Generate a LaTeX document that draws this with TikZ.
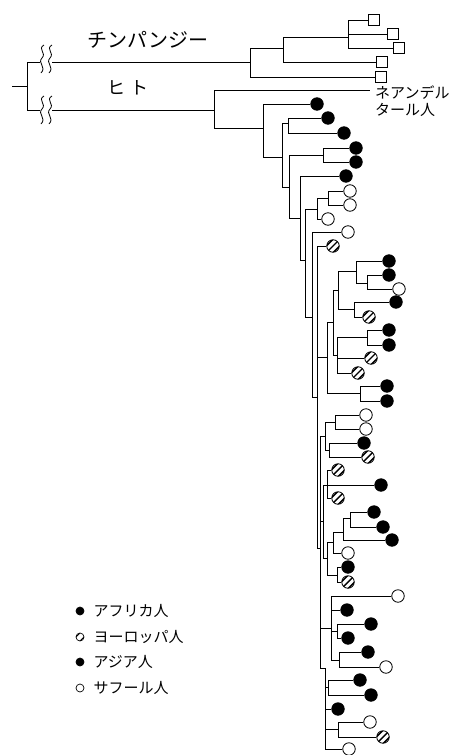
\documentclass[tikz,border=0pt]{standalone}
\usepackage{fontspec}
\newfontfamily\jp{Noto Sans CJK JP}
\begin{document}
\begin{tikzpicture}[x=1pt,y=-1pt]
\tikzset{
 br/.style={line width=1pt, line cap=square},
 lf/.style={circle, draw, line width=0.8pt, minimum size=12.5pt, inner sep=0pt},
 lb/.style={lf, fill=black},
 lw/.style={lf, fill=white},
 lh/.style={lf, fill=white, path picture={\foreach \d in {-3.3,0,3.3}{\draw[line width=1.4pt] ([shift={(-9+\d,9+\d)}]path picture bounding box.center) -- ([shift={(9+\d,-9+\d)}]path picture bounding box.center);}}},
 sq/.style={draw, rectangle, minimum size=11pt, inner sep=0pt, fill=white, line width=0.8pt},
 lg/.style={circle, draw, minimum size=8pt, inner sep=0pt, line width=0.7pt},
 lgh/.style={lg, fill=white, path picture={\foreach \d in {-2,2}{\draw[line width=0.9pt] ([shift={(-6+\d,6+\d)}]path picture bounding box.center) -- ([shift={(6+\d,-6+\d)}]path picture bounding box.center);}}},
 lbl/.style={font=\jp\fontsize{15}{15}\selectfont, inner sep=0pt},
 brk/.style={line width=0.8pt}
}
\useasboundingbox (0,0) rectangle (459,755);

% root
\draw[br] (12,86) -- (27,86);
\draw[br] (27,62) -- (27,110);
\draw[br] (27,62) -- (250,62);
\draw[br] (27,110) -- (214,110);
% breaks
\fill[white] (40,55) rectangle (52,69);
\fill[white] (40,103) rectangle (52,117);
\foreach \bx in {42,50}{
 \foreach \by in {59,110}{
  \draw[brk] (\bx+2,\by-14) .. controls (\bx-5,\by-10) and (\bx+5,\by-6) .. (\bx,\by-1) .. controls (\bx-5,\by+4) and (\bx+5,\by+8) .. (\bx-1,\by+14);
 }
}
% labels
\node[font=\jp\fontsize{20}{20}\selectfont, inner sep=0pt] (chimp) at (148,40) {チンパンジー};
\node[font=\jp\fontsize{18}{18}\selectfont, inner sep=0pt] (hito) at (128,88) {ヒ\hspace{5pt}ト};

% chimp clade
\node[sq] (c1) at (374,20) {};
\node[sq] (c2) at (393,34) {};
\node[sq] (c3) at (399,48) {};
\node[sq] (c4) at (382,62) {};
\node[sq] (c5) at (381,77) {};
\draw[br] (250,48) -- (250,77);
\draw[br] (250,48) -- (283,48);
\draw[br] (250,77) -- (c5);
\draw[br] (283,37) -- (283,62);
\draw[br] (283,37) -- (348,37);
\draw[br] (283,62) -- (c4);
\draw[br] (348,20) -- (348,48);
\draw[br] (348,20) -- (c1);
\draw[br] (348,34) -- (c2);
\draw[br] (348,48) -- (c3);

% human
\coordinate (nea) at (370,90);
\draw[br] (214,90) -- (214,128);
\draw[br] (214,90) -- (nea);
\node[lbl, anchor=west] (n1) at (375,93) {ネアンデル};
\node[lbl, anchor=west] (n2) at (375,110) {タール人};

\node[lb] (a1) at (317,104) {};
\node[lb] (a2) at (328,118) {};
\node[lb] (a3) at (344,133) {};
\node[lb] (a4) at (356,148) {};
\node[lb] (a5) at (356,162) {};
\node[lb] (a6) at (346,176) {};
\node[lw] (a7) at (350,191) {};
\node[lw] (a8) at (350,205) {};
\node[lw] (a9) at (328,219) {};
\node[lw] (a10) at (348,232) {};
\node[lh] (a11) at (333,246) {};

\draw[br] (214,128) -- (263,128);
\draw[br] (263,104) -- (263,157);
\draw[br] (263,104) -- (a1);
\draw[br] (263,157) -- (282,157);
\draw[br] (282,123) -- (282,187);
\draw[br] (282,123) -- (288,123);
\draw[br] (288,118) -- (288,133);
\draw[br] (288,118) -- (a2);
\draw[br] (288,133) -- (a3);
\draw[br] (282,187) -- (289,187);
\draw[br] (289,155) -- (289,218);
\draw[br] (289,155) -- (323,155);
\draw[br] (323,148) -- (323,162);
\draw[br] (323,148) -- (a4);
\draw[br] (323,162) -- (a5);
\draw[br] (289,218) -- (300,218);
\draw[br] (300,176) -- (300,260);
\draw[br] (300,176) -- (a6);
\draw[br] (300,260) -- (305,260);
\draw[br] (305,209) -- (305,317);
\draw[br] (305,209) -- (317,209);
\draw[br] (317,198) -- (317,219);
\draw[br] (317,198) -- (328,198);
\draw[br] (328,191) -- (328,205);
\draw[br] (328,191) -- (a7);
\draw[br] (328,205) -- (a8);
\draw[br] (317,219) -- (a9);
\draw[br] (305,317) -- (312,317);
\draw[br] (312,232) -- (312,397);
\draw[br] (312,232) -- (a10);
\draw[br] (312,397) -- (317,397);
\draw[br] (317,246) -- (317,548);
\draw[br] (317,246) -- (a11);

% S1
\node[lb] (b1) at (389,261) {};
\node[lb] (b2) at (389,275) {};
\node[lw] (b3) at (399,289) {};
\node[lb] (b4) at (396,302) {};
\node[lh] (b5) at (369,317) {};
\draw[br] (333,290) -- (338,290);
\draw[br] (338,271) -- (338,309);
\draw[br] (338,271) -- (356,271);
\draw[br] (356,261) -- (356,283);
\draw[br] (356,261) -- (b1);
\draw[br] (356,283) -- (367,283);
\draw[br] (367,275) -- (367,289);
\draw[br] (367,275) -- (b2);
\draw[br] (367,289) -- (b3);
\draw[br] (338,309) -- (354,309);
\draw[br] (354,302) -- (354,317);
\draw[br] (354,302) -- (b4);
\draw[br] (354,317) -- (b5);
% S2
\node[lb] (b6) at (389,330) {};
\node[lb] (b7) at (389,345) {};
\node[lh] (b8) at (371,358) {};
\node[lh] (b9) at (358,373) {};
\draw[br] (333,290) -- (333,355);
\draw[br] (333,355) -- (337,355);
\draw[br] (337,337) -- (337,373);
\draw[br] (337,337) -- (367,337);
\draw[br] (367,330) -- (367,345);
\draw[br] (367,330) -- (b6);
\draw[br] (367,345) -- (b7);
\draw[br] (337,358) -- (b8);
\draw[br] (337,373) -- (b9);
% S3
\node[lb] (b10) at (387,386) {};
\node[lb] (b11) at (387,401) {};
\draw[br] (327,322) -- (333,322);
\draw[br] (327,322) -- (327,393);
\draw[br] (317,357) -- (327,357);
\draw[br] (327,393) -- (360,393);
\draw[br] (360,386) -- (360,401);
\draw[br] (360,386) -- (b10);
\draw[br] (360,401) -- (b11);

% V3 backbone
\draw[br] (317,548) -- (320,548);
\draw[br] (320,436) -- (320,668);
% S4, S5
\node[lw] (b12) at (366,415) {};
\node[lw] (b13) at (366,429) {};
\node[lb] (b14) at (364,443) {};
\node[lh] (b15) at (368,457) {};
\draw[br] (320,436) -- (325,436);
\draw[br] (325,422) -- (325,450);
\draw[br] (325,422) -- (335,422);
\draw[br] (335,415) -- (335,429);
\draw[br] (335,415) -- (b12);
\draw[br] (335,429) -- (b13);
\draw[br] (325,450) -- (329,450);
\draw[br] (329,443) -- (329,457);
\draw[br] (329,443) -- (b14);
\draw[br] (329,457) -- (b15);
% V4
\draw[br] (320,521) -- (323,521);
\draw[br] (323,485) -- (323,558);
% S6
\node[lh] (b16) at (338,470) {};
\node[lb] (b17) at (381,485) {};
\node[lh] (b18) at (338,498) {};
\draw[br] (323,485) -- (327,485);
\draw[br] (327,470) -- (327,498);
\draw[br] (327,470) -- (b16);
\draw[br] (327,485) -- (b17);
\draw[br] (327,498) -- (b18);
% S7, S8
\node[lb] (b19) at (374,512) {};
\node[lb] (b20) at (383,527) {};
\node[lb] (b21) at (392,540) {};
\node[lw] (b22) at (348,553) {};
\node[lb] (b23) at (348,567) {};
\node[lh] (b24) at (348,582) {};
\draw[br] (323,558) -- (327,558);
\draw[br] (327,542) -- (327,575);
\draw[br] (327,542) -- (333,542);
\draw[br] (333,532) -- (333,553);
\draw[br] (333,532) -- (343,532);
\draw[br] (343,518) -- (343,540);
\draw[br] (343,518) -- (350,518);
\draw[br] (350,512) -- (350,527);
\draw[br] (350,512) -- (b19);
\draw[br] (350,527) -- (b20);
\draw[br] (343,540) -- (b21);
\draw[br] (333,553) -- (b22);
\draw[br] (327,575) -- (337,575);
\draw[br] (337,567) -- (337,582);
\draw[br] (337,567) -- (b23);
\draw[br] (337,582) -- (b24);
% S9
\node[lw] (b25) at (398,596) {};
\node[lb] (b26) at (347,610) {};
\node[lb] (b27) at (371,624) {};
\node[lb] (b28) at (348,638) {};
\node[lb] (b29) at (368,652) {};
\node[lw] (b30) at (386,667) {};
\draw[br] (320,628) -- (331,628);
\draw[br] (331,596) -- (331,660);
\draw[br] (331,596) -- (b25);
\draw[br] (331,610) -- (b26);
\draw[br] (331,631) -- (337,631);
\draw[br] (337,624) -- (337,638);
\draw[br] (337,624) -- (b27);
\draw[br] (337,638) -- (b28);
\draw[br] (331,660) -- (339,660);
\draw[br] (339,652) -- (339,667);
\draw[br] (339,652) -- (b29);
\draw[br] (339,667) -- (b30);
% S10
\node[lb] (b31) at (360,680) {};
\node[lb] (b32) at (371,695) {};
\node[lb] (b33) at (338,709) {};
\node[lw] (b34) at (370,722) {};
\node[lh] (b35) at (383,737) {};
\node[lw] (b36) at (349,749) {};
\draw[br] (320,668) -- (325,668);
\draw[br] (325,668) -- (325,749);
\draw[br] (325,687) -- (328,687);
\draw[br] (328,680) -- (328,695);
\draw[br] (328,680) -- (b31);
\draw[br] (328,695) -- (b32);
\draw[br] (325,709) -- (b33);
\draw[br] (325,729) -- (338,729);
\draw[br] (338,722) -- (338,737);
\draw[br] (338,722) -- (b34);
\draw[br] (338,737) -- (b35);
\draw[br] (325,749) -- (b36);

% legend
\node[lg, fill=black] (k1) at (80,611) {};
\node[lgh] (k2) at (80,637) {};
\node[lg, fill=black] (k3) at (80,662) {};
\node[lg, fill=white] (k4) at (80,688) {};
\node[lbl, anchor=west] (t1) at ([xshift=9pt]k1.east) {アフリカ人};
\node[lbl, anchor=west] (t2) at ([xshift=9pt]k2.east) {ヨーロッパ人};
\node[lbl, anchor=west] (t3) at ([xshift=9pt]k3.east) {アジア人};
\node[lbl, anchor=west] (t4) at ([xshift=9pt]k4.east) {サフール人};
\end{tikzpicture}
\end{document}
